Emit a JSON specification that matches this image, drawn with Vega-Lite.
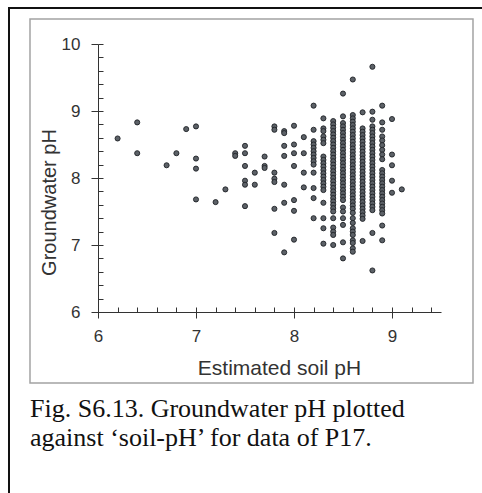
{
  "$schema": "https://vega.github.io/schema/vega-lite/v6.json",
  "width": 343,
  "height": 268,
  "autosize": {"type": "none"},
  "padding": {"left": 98, "top": 44, "right": 41, "bottom": 181},
  "background": "white",
  "config": {"view": {"stroke": null}},
  "title": {
    "text": ["Fig. S6.13. Groundwater pH plotted", "against \u2018soil-pH\u2019 for data of P17."],
    "orient": "bottom",
    "anchor": "start",
    "frame": "group",
    "dx": -68,
    "offset": -98,
    "baseline": "top",
    "font": "Liberation Serif",
    "fontSize": 26,
    "fontWeight": "normal",
    "color": "#111111",
    "lineHeight": 29
  },
  "data": {"values": [
    {"x": 6.2, "y": 8.59}, {"x": 6.4, "y": 8.83}, {"x": 6.4, "y": 8.37}, {"x": 6.7, "y": 8.19}, {"x": 6.8, "y": 8.37},
    {"x": 6.9, "y": 8.73}, {"x": 7.0, "y": 8.77}, {"x": 7.0, "y": 8.29}, {"x": 7.0, "y": 8.14}, {"x": 7.0, "y": 7.68},
    {"x": 7.2, "y": 7.64}, {"x": 7.3, "y": 7.83}, {"x": 7.4, "y": 8.37}, {"x": 7.4, "y": 8.33}, {"x": 7.5, "y": 8.48},
    {"x": 7.5, "y": 8.37}, {"x": 7.5, "y": 8.18}, {"x": 7.5, "y": 7.96}, {"x": 7.5, "y": 7.90}, {"x": 7.5, "y": 7.58},
    {"x": 7.6, "y": 8.08}, {"x": 7.6, "y": 7.90}, {"x": 7.7, "y": 8.32}, {"x": 7.7, "y": 8.18}, {"x": 7.7, "y": 8.15},
    {"x": 7.8, "y": 8.77}, {"x": 7.8, "y": 8.72}, {"x": 7.8, "y": 8.08}, {"x": 7.8, "y": 7.99}, {"x": 7.8, "y": 7.94},
    {"x": 7.8, "y": 7.54}, {"x": 7.8, "y": 7.18}, {"x": 7.9, "y": 8.70}, {"x": 7.9, "y": 8.67}, {"x": 7.9, "y": 8.48},
    {"x": 7.9, "y": 8.33}, {"x": 7.9, "y": 7.90}, {"x": 7.9, "y": 7.63}, {"x": 7.9, "y": 6.89}, {"x": 8.0, "y": 8.78},
    {"x": 8.0, "y": 8.50}, {"x": 8.0, "y": 8.37}, {"x": 8.0, "y": 8.18}, {"x": 8.0, "y": 7.67}, {"x": 8.0, "y": 7.51},
    {"x": 8.0, "y": 7.08}, {"x": 8.1, "y": 8.61}, {"x": 8.1, "y": 8.37}, {"x": 8.1, "y": 8.08}, {"x": 8.1, "y": 7.86},
    {"x": 8.2, "y": 9.08}, {"x": 8.2, "y": 8.72}, {"x": 8.2, "y": 8.55}, {"x": 8.2, "y": 8.50}, {"x": 8.2, "y": 8.45},
    {"x": 8.2, "y": 8.40}, {"x": 8.2, "y": 8.35}, {"x": 8.2, "y": 8.30}, {"x": 8.2, "y": 8.25}, {"x": 8.2, "y": 8.20},
    {"x": 8.2, "y": 8.08}, {"x": 8.2, "y": 7.85}, {"x": 8.2, "y": 7.70}, {"x": 8.2, "y": 7.40},
    {"x": 8.3, "y": 8.89}, {"x": 8.3, "y": 8.74}, {"x": 8.3, "y": 8.70}, {"x": 8.3, "y": 8.62}, {"x": 8.3, "y": 8.57},
    {"x": 8.3, "y": 8.52}, {"x": 8.3, "y": 8.32}, {"x": 8.3, "y": 8.27}, {"x": 8.3, "y": 8.22}, {"x": 8.3, "y": 8.17},
    {"x": 8.3, "y": 8.12}, {"x": 8.3, "y": 8.07}, {"x": 8.3, "y": 8.02}, {"x": 8.3, "y": 7.97}, {"x": 8.3, "y": 7.92},
    {"x": 8.3, "y": 7.87}, {"x": 8.3, "y": 7.82}, {"x": 8.3, "y": 7.63}, {"x": 8.3, "y": 7.40}, {"x": 8.3, "y": 7.25},
    {"x": 8.3, "y": 7.02},
    {"x": 8.4, "y": 8.85}, {"x": 8.4, "y": 8.80}, {"x": 8.4, "y": 8.75}, {"x": 8.4, "y": 8.70}, {"x": 8.4, "y": 8.65},
    {"x": 8.4, "y": 8.60}, {"x": 8.4, "y": 8.55}, {"x": 8.4, "y": 8.50}, {"x": 8.4, "y": 8.45}, {"x": 8.4, "y": 8.40},
    {"x": 8.4, "y": 8.35}, {"x": 8.4, "y": 8.30}, {"x": 8.4, "y": 8.25}, {"x": 8.4, "y": 8.20}, {"x": 8.4, "y": 8.15},
    {"x": 8.4, "y": 8.10}, {"x": 8.4, "y": 8.05}, {"x": 8.4, "y": 8.00}, {"x": 8.4, "y": 7.95}, {"x": 8.4, "y": 7.90},
    {"x": 8.4, "y": 7.85}, {"x": 8.4, "y": 7.80}, {"x": 8.4, "y": 7.75}, {"x": 8.4, "y": 7.70}, {"x": 8.4, "y": 7.65},
    {"x": 8.4, "y": 7.60}, {"x": 8.4, "y": 7.55}, {"x": 8.4, "y": 7.50}, {"x": 8.4, "y": 7.40}, {"x": 8.4, "y": 7.26},
    {"x": 8.4, "y": 7.20}, {"x": 8.4, "y": 7.15}, {"x": 8.4, "y": 7.00},
    {"x": 8.5, "y": 9.26}, {"x": 8.5, "y": 8.92}, {"x": 8.5, "y": 8.82}, {"x": 8.5, "y": 8.77}, {"x": 8.5, "y": 8.72},
    {"x": 8.5, "y": 8.67}, {"x": 8.5, "y": 8.62}, {"x": 8.5, "y": 8.57}, {"x": 8.5, "y": 8.52}, {"x": 8.5, "y": 8.47},
    {"x": 8.5, "y": 8.42}, {"x": 8.5, "y": 8.37}, {"x": 8.5, "y": 8.32}, {"x": 8.5, "y": 8.27}, {"x": 8.5, "y": 8.22},
    {"x": 8.5, "y": 8.17}, {"x": 8.5, "y": 8.12}, {"x": 8.5, "y": 8.07}, {"x": 8.5, "y": 8.02}, {"x": 8.5, "y": 7.97},
    {"x": 8.5, "y": 7.92}, {"x": 8.5, "y": 7.87}, {"x": 8.5, "y": 7.82}, {"x": 8.5, "y": 7.77}, {"x": 8.5, "y": 7.72},
    {"x": 8.5, "y": 7.67}, {"x": 8.5, "y": 7.56}, {"x": 8.5, "y": 7.50}, {"x": 8.5, "y": 7.40}, {"x": 8.5, "y": 7.30},
    {"x": 8.5, "y": 7.04}, {"x": 8.5, "y": 6.80},
    {"x": 8.6, "y": 9.47}, {"x": 8.6, "y": 8.94}, {"x": 8.6, "y": 8.89}, {"x": 8.6, "y": 8.84}, {"x": 8.6, "y": 8.79},
    {"x": 8.6, "y": 8.74}, {"x": 8.6, "y": 8.69}, {"x": 8.6, "y": 8.64}, {"x": 8.6, "y": 8.59}, {"x": 8.6, "y": 8.54},
    {"x": 8.6, "y": 8.49}, {"x": 8.6, "y": 8.44}, {"x": 8.6, "y": 8.39}, {"x": 8.6, "y": 8.34}, {"x": 8.6, "y": 8.29},
    {"x": 8.6, "y": 8.24}, {"x": 8.6, "y": 8.19}, {"x": 8.6, "y": 8.14}, {"x": 8.6, "y": 8.09}, {"x": 8.6, "y": 8.04},
    {"x": 8.6, "y": 7.99}, {"x": 8.6, "y": 7.94}, {"x": 8.6, "y": 7.89}, {"x": 8.6, "y": 7.84}, {"x": 8.6, "y": 7.79},
    {"x": 8.6, "y": 7.74}, {"x": 8.6, "y": 7.69}, {"x": 8.6, "y": 7.64}, {"x": 8.6, "y": 7.59}, {"x": 8.6, "y": 7.54},
    {"x": 8.6, "y": 7.48}, {"x": 8.6, "y": 7.40}, {"x": 8.6, "y": 7.33}, {"x": 8.6, "y": 7.25}, {"x": 8.6, "y": 7.20},
    {"x": 8.6, "y": 7.15}, {"x": 8.6, "y": 7.07}, {"x": 8.6, "y": 7.03}, {"x": 8.6, "y": 6.95}, {"x": 8.6, "y": 6.90},
    {"x": 8.7, "y": 8.98}, {"x": 8.7, "y": 8.74}, {"x": 8.7, "y": 8.69}, {"x": 8.7, "y": 8.64}, {"x": 8.7, "y": 8.59},
    {"x": 8.7, "y": 8.54}, {"x": 8.7, "y": 8.49}, {"x": 8.7, "y": 8.44}, {"x": 8.7, "y": 8.39}, {"x": 8.7, "y": 8.34},
    {"x": 8.7, "y": 8.29}, {"x": 8.7, "y": 8.24}, {"x": 8.7, "y": 8.19}, {"x": 8.7, "y": 8.14}, {"x": 8.7, "y": 8.09},
    {"x": 8.7, "y": 8.04}, {"x": 8.7, "y": 7.99}, {"x": 8.7, "y": 7.94}, {"x": 8.7, "y": 7.89}, {"x": 8.7, "y": 7.84},
    {"x": 8.7, "y": 7.79}, {"x": 8.7, "y": 7.74}, {"x": 8.7, "y": 7.69}, {"x": 8.7, "y": 7.64}, {"x": 8.7, "y": 7.59},
    {"x": 8.7, "y": 7.54}, {"x": 8.7, "y": 7.49}, {"x": 8.7, "y": 7.44}, {"x": 8.7, "y": 7.39}, {"x": 8.7, "y": 7.06},
    {"x": 8.8, "y": 9.66}, {"x": 8.8, "y": 8.99}, {"x": 8.8, "y": 8.87}, {"x": 8.8, "y": 8.77}, {"x": 8.8, "y": 8.72},
    {"x": 8.8, "y": 8.67}, {"x": 8.8, "y": 8.62}, {"x": 8.8, "y": 8.57}, {"x": 8.8, "y": 8.52}, {"x": 8.8, "y": 8.47},
    {"x": 8.8, "y": 8.42}, {"x": 8.8, "y": 8.37}, {"x": 8.8, "y": 8.32}, {"x": 8.8, "y": 8.27}, {"x": 8.8, "y": 8.22},
    {"x": 8.8, "y": 8.17}, {"x": 8.8, "y": 8.12}, {"x": 8.8, "y": 8.07}, {"x": 8.8, "y": 8.02}, {"x": 8.8, "y": 7.97},
    {"x": 8.8, "y": 7.92}, {"x": 8.8, "y": 7.87}, {"x": 8.8, "y": 7.82}, {"x": 8.8, "y": 7.77}, {"x": 8.8, "y": 7.72},
    {"x": 8.8, "y": 7.67}, {"x": 8.8, "y": 7.62}, {"x": 8.8, "y": 7.57}, {"x": 8.8, "y": 7.52}, {"x": 8.8, "y": 7.18},
    {"x": 8.8, "y": 6.62},
    {"x": 8.9, "y": 9.08}, {"x": 8.9, "y": 8.83}, {"x": 8.9, "y": 8.72}, {"x": 8.9, "y": 8.62}, {"x": 8.9, "y": 8.56},
    {"x": 8.9, "y": 8.49}, {"x": 8.9, "y": 8.42}, {"x": 8.9, "y": 8.35}, {"x": 8.9, "y": 8.28}, {"x": 8.9, "y": 8.12},
    {"x": 8.9, "y": 8.07}, {"x": 8.9, "y": 8.02}, {"x": 8.9, "y": 7.97}, {"x": 8.9, "y": 7.92}, {"x": 8.9, "y": 7.87},
    {"x": 8.9, "y": 7.82}, {"x": 8.9, "y": 7.77}, {"x": 8.9, "y": 7.72}, {"x": 8.9, "y": 7.67}, {"x": 8.9, "y": 7.62},
    {"x": 8.9, "y": 7.57}, {"x": 8.9, "y": 7.52}, {"x": 8.9, "y": 7.47}, {"x": 8.9, "y": 7.29}, {"x": 8.9, "y": 7.07},
    {"x": 9.0, "y": 8.88}, {"x": 9.0, "y": 8.35}, {"x": 9.0, "y": 8.19}, {"x": 9.0, "y": 7.96}, {"x": 9.0, "y": 7.78},
    {"x": 9.1, "y": 7.83}
  ]},
  "layer": [
    {
      "data": {"values": [{}]},
      "mark": {"type": "rect", "fill": "transparent", "stroke": "#a3a3a3", "strokeWidth": 1.5},
      "encoding": {
        "x": {"datum": 5.3061, "type": "quantitative", "scale": {"domain": [6, 9.5], "nice": false, "zero": false}, "axis": null},
        "x2": {"datum": 9.8265},
        "y": {"datum": 10.3731, "type": "quantitative", "scale": {"domain": [6, 10], "nice": false, "zero": false}, "axis": null},
        "y2": {"datum": 4.9403}
      }
    },
    {
      "data": {"values": [{}]},
      "mark": {"type": "rule", "stroke": "#111111", "strokeWidth": 2},
      "encoding": {
        "x": {"datum": 5.0918, "type": "quantitative", "scale": {"domain": [6, 9.5], "nice": false, "zero": false}, "axis": null},
        "y": {"datum": 10.5373, "type": "quantitative", "scale": {"domain": [6, 10], "nice": false, "zero": false}, "axis": null},
        "y2": {"datum": 3.2985}
      }
    },
    {
      "data": {"values": [{}]},
      "mark": {"type": "rule", "stroke": "#111111", "strokeWidth": 2},
      "encoding": {
        "x": {"datum": 5.0818, "type": "quantitative", "scale": {"domain": [6, 9.5], "nice": false, "zero": false}, "axis": null},
        "x2": {"datum": 9.9184},
        "y": {"datum": 10.5373, "type": "quantitative", "scale": {"domain": [6, 10], "nice": false, "zero": false}, "axis": null}
      }
    },
    {
      "mark": {"type": "circle", "size": 0, "opacity": 0},
      "encoding": {
        "x": {"field": "x", "type": "quantitative", "scale": {"domain": [6, 9.5], "nice": false, "zero": false},
          "axis": {"orient": "bottom", "values": [6, 6.2, 6.4, 6.6, 6.8, 7, 7.2, 7.4, 7.6, 7.8, 8, 8.2, 8.4, 8.6, 8.8, 9, 9.2, 9.4],
            "tickSize": -5, "tickColor": "#333333", "tickWidth": 1, "labels": false, "domain": false, "grid": false, "title": null}},
        "y": {"field": "y", "type": "quantitative", "scale": {"domain": [6, 10], "nice": false, "zero": false},
          "axis": {"orient": "left", "values": [6, 6.2, 6.4, 6.6, 6.8, 7, 7.2, 7.4, 7.6, 7.8, 8, 8.2, 8.4, 8.6, 8.8, 9, 9.2, 9.4, 9.6, 9.8, 10],
            "tickSize": -5, "tickColor": "#333333", "tickWidth": 1, "labels": false, "domain": false, "grid": false, "title": null}}
      }
    },
    {
      "mark": {"type": "circle", "size": 26, "color": "#5c6167", "stroke": "#1f2327", "strokeWidth": 0.9, "opacity": 1},
      "encoding": {
        "x": {"field": "x", "type": "quantitative", "scale": {"domain": [6, 9.5], "nice": false, "zero": false},
          "axis": {"orient": "bottom", "values": [6, 7, 8, 9], "tickSize": 6, "tickColor": "#333333", "tickWidth": 1,
            "domainColor": "#333333", "domainWidth": 1, "grid": false,
            "labelFont": "Liberation Sans", "labelFontSize": 17, "labelColor": "#333333", "labelPadding": 10, "labelFlush": false,
            "title": "Estimated soil pH", "titleFont": "Liberation Sans", "titleFontSize": 21, "titleFontWeight": "normal",
            "titleColor": "#333333", "titleX": 181, "titleY": 62, "titleBaseline": "alphabetic", "titleAlign": "center"}},
        "y": {"field": "y", "type": "quantitative", "scale": {"domain": [6, 10], "nice": false, "zero": false},
          "axis": {"orient": "left", "values": [6, 7, 8, 9, 10], "tickSize": 7, "tickColor": "#333333", "tickWidth": 1,
            "domainColor": "#333333", "domainWidth": 1, "grid": false,
            "labelFont": "Liberation Sans", "labelFontSize": 17, "labelColor": "#333333", "labelPadding": 11, "labelFlush": false,
            "title": "Groundwater pH", "titleFont": "Liberation Sans", "titleFontSize": 20, "titleFontWeight": "normal",
            "titleColor": "#333333", "titleX": -43, "titleY": 158, "titleAngle": 270, "titleBaseline": "alphabetic", "titleAlign": "center"}}
      }
    }
  ],
  "resolve": {"axis": {"x": "independent", "y": "independent"}}
}
